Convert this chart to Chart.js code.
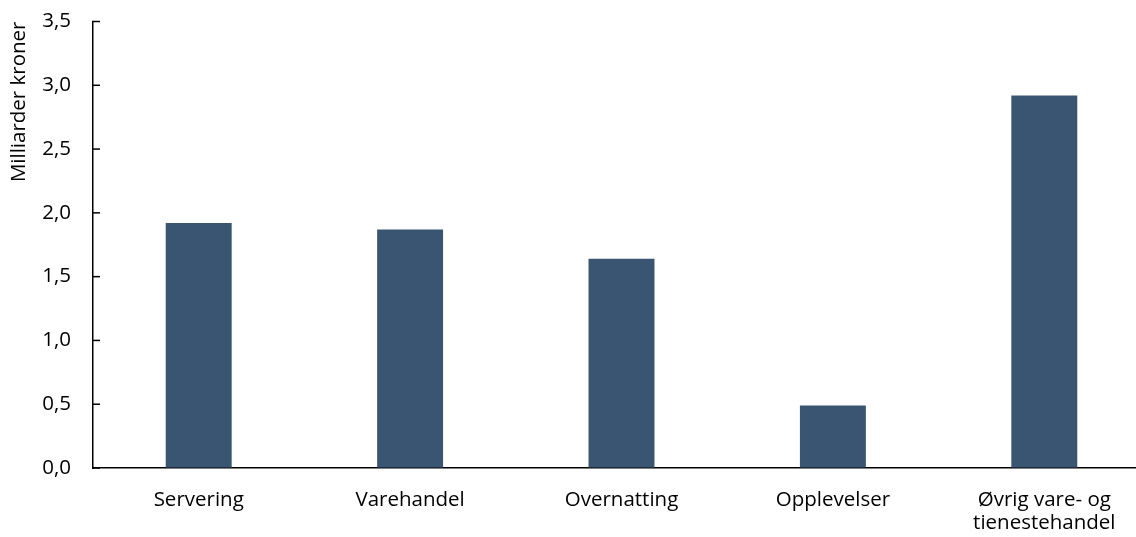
<!DOCTYPE html>
<html lang="no">
<head>
<meta charset="UTF-8">
<title>Milliarder kroner</title>
<script src="https://cdn.jsdelivr.net/npm/chart.js"></script>
<style>
  body { margin: 0; overflow: hidden; background: #fff; }
  /* plot runs a bit past the right edge in the original, so the canvas is wider than the window */
  #wrap { width: 1150px; height: 537px; }
</style>
</head>
<body>
<div id="wrap"><canvas id="chart"></canvas></div>
<script>
const categories = ['Servering', 'Varehandel', 'Overnatting', 'Opplevelser', ['Øvrig vare- og', 'tienestehandel']];
const values = [1.92, 1.87, 1.64, 0.49, 2.92];
const yMin = 0;
const yMax = 3.5;
const yStep = 0.5;
const axisTitle = 'Milliarder kroner';

const FONT = '"Open Sans", Lato, sans-serif';
const FONT_SIZE = 20.5;

// short tick marks pointing into the plot, like the original
const innerTicks = {
    id: 'innerTicks',
    afterDraw(chart) {
        const y = chart.scales.y;
        const ctx = chart.ctx;
        ctx.save();
        ctx.strokeStyle = '#000';
        ctx.lineWidth = 1.5;
        y.ticks.forEach((t, i) => {
            const py = y.getPixelForTick(i);
            ctx.beginPath();
            ctx.moveTo(y.right - 1, py);
            ctx.lineTo(y.right + 7, py);
            ctx.stroke();
        });
        ctx.restore();
    }
};

new Chart(document.getElementById('chart'), {
    type: 'bar',
    data: {
        labels: categories,
        datasets: [{
            data: values,
            backgroundColor: '#3a5572',
            barPercentage: 0.312,
            categoryPercentage: 1
        }]
    },
    options: {
        responsive: true,
        maintainAspectRatio: false,
        animation: false,
        layout: { padding: 0 },
        plugins: {
            legend: { display: false },
            tooltip: { enabled: false }
        },
        scales: {
            x: {
                grid: { display: true, drawOnChartArea: false, drawTicks: false },
                border: { display: true, color: '#000', width: 1.5 },
                ticks: {
                    color: '#000',
                    padding: 20,
                    maxRotation: 0,
                    autoSkip: false,
                    font: { family: FONT, size: FONT_SIZE, lineHeight: 1.15 }
                },
                afterFit(scale) { scale.height = 69; }
            },
            y: {
                min: yMin,
                max: yMax,
                grid: { display: true, drawOnChartArea: false, drawTicks: false },
                border: { display: true, color: '#000', width: 1.5 },
                ticks: {
                    stepSize: yStep,
                    color: '#000',
                    padding: 22,
                    font: { family: FONT, size: FONT_SIZE },
                    callback: v => v.toFixed(1).replace('.', ',')
                },
                title: {
                    display: true,
                    text: axisTitle,
                    align: 'end',
                    color: '#000',
                    padding: { top: 7, bottom: 0 },
                    font: { family: FONT, size: FONT_SIZE }
                },
                afterFit(scale) {
                    scale.width = 93;
                    scale.paddingTop = 21.5;
                    scale.paddingBottom = 0;
                }
            }
        }
    },
    plugins: [innerTicks]
});
</script>
</body>
</html>
